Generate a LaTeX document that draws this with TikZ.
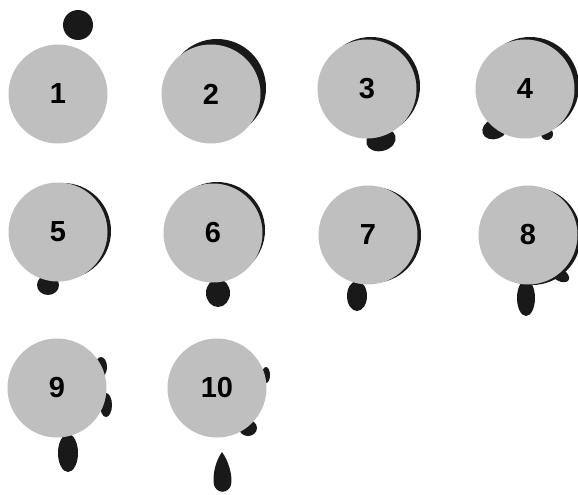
\documentclass[tikz,border=0pt]{standalone}
\usepackage{fontspec}
\setmainfont{Liberation Sans}
\usetikzlibrary{calc}

\begin{document}
\begin{tikzpicture}[x=1pt, y=-1pt,
      disc/.style={circle, fill=black!25, minimum size=99pt, inner sep=0pt,
        font=\fontsize{29}{29}\selectfont\bfseries},
      ink/.style={fill=black!90}]
  \useasboundingbox (0,0) rectangle (578,495);
  % disc centres
  \foreach \n/\x/\y in {1/58/94, 2/211/94, 3/367/89, 4/525/89, 5/58/232,
      6/213/233, 7/368/235, 8/528/235, 9/57/388, 10/217/388}
    \coordinate (p\n) at (\x,\y);

  % ink behind the discs
  \fill[ink] (78,25) circle (15);
  \fill[ink] ($(p2)+(6,-6)$) circle (49);
  \fill[ink] ($(p3)+(4,-3)$) circle (49);
  \fill[ink, rotate around={15:(381,140)}] (381,140) ellipse (15 and 11);
  \fill[ink] ($(p4)+(5,-3)$) circle (49);
  \fill[ink, rotate around={20:(495,129)}] (495,129) ellipse (13 and 10);
  \fill[ink] (547,134) ellipse (6 and 6);
  \fill[ink] ($(p5)+(5,-1)$) circle (48);
  \fill[ink] (48,285) ellipse (11 and 10);
  \fill[ink] ($(p6)+(4,-3)$) circle (48);
  \fill[ink] (218,293) ellipse (12 and 14);
  \fill[ink] ($(p7)+(5,0)$) circle (48);
  \fill[ink] (357,296) ellipse (10 and 15);
  \fill[ink] ($(p8)+(4,1)$) circle (49);
  \fill[ink, rotate around={-30:(560,275)}] (560,275) ellipse (10 and 6);
  \fill[ink] (526,298) ellipse (9 and 18);
  \fill[ink] (101,367) ellipse (6 and 10);
  \fill[ink] (106,405) ellipse (6 and 12);
  \fill[ink] (68,453) ellipse (10 and 19);
  \fill[ink] (266,375) ellipse (4 and 8);
  \fill[ink] (248,428) ellipse (9 and 8);
  \fill[ink] (222,452) .. controls (216,460) and (212,475) .. (214,485)
    .. controls (217,494) and (228,494) .. (231,485)
    .. controls (233,475) and (228,460) .. (222,452);

  \foreach \n in {1,...,10}
    \node[disc] (c\n) at (p\n) {\n};
\end{tikzpicture}
\end{document}
